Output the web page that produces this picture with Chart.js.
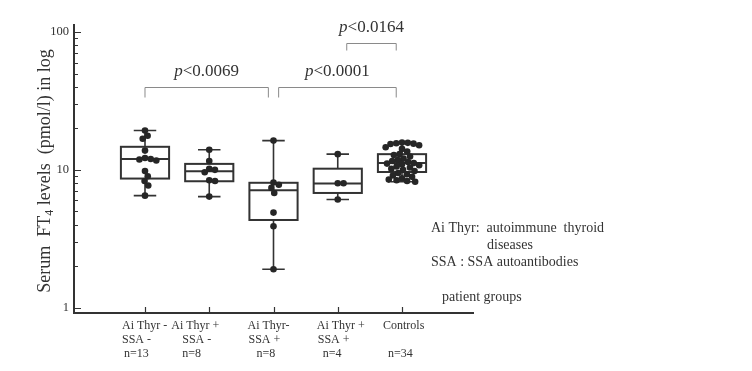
<!DOCTYPE html>
<html>
<head>
<meta charset="utf-8">
<script src="https://cdn.jsdelivr.net/npm/chart.js@4/dist/chart.umd.min.js"></script>
<style>
  html, body { margin: 0; padding: 0; background: #fff; }
  #wrap { width: 752px; height: 371px; }
</style>
</head>
<body>
<div id="wrap"><canvas id="chart"></canvas></div>
<script>
// ─── data ─────────────────────────────────────────────
const groupLine1 = ['Ai Thyr -', 'Ai Thyr +', 'Ai Thyr-', 'Ai Thyr +', 'Controls'];
const groupLine2 = ['SSA -', 'SSA -', 'SSA +', 'SSA +', ''];
const groupN     = ['n=13', 'n=8', 'n=8', 'n=4', 'n=34'];

const valsAi0Ssa0 = [19.3, 17.7, 16.8, 13.8, 12.2, 12.0, 11.9, 11.7, 9.8, 9.0, 8.3, 7.7, 6.5];
const valsAi1Ssa0 = [14.0, 11.6, 10.2, 10.0, 9.6, 8.4, 8.3, 6.4];
const valsAi0Ssa1 = [16.3, 8.1, 7.8, 7.4, 6.8, 4.9, 3.9, 1.9];
const valsAi1Ssa1 = [13.0, 8.0, 8.0, 6.1];
const valsControls = [15.8, 15.7, 15.6, 15.5, 15.4, 15.1, 14.6, 14.2, 13.6, 13.0, 12.8, 12.5,
                      12.1, 11.8, 11.6, 11.4, 11.2, 11.1, 11.0, 10.8, 10.6, 10.4, 10.2, 10.0,
                      9.8, 9.5, 9.3, 9.1, 8.9, 8.7, 8.5, 8.4, 8.3, 8.2];
const groupValues = [valsAi0Ssa0, valsAi1Ssa0, valsAi0Ssa1, valsAi1Ssa1, valsControls];

const boxLow    = [6.5, 6.4, 1.9, 6.1, 8.2];
const boxQ1     = [8.65, 8.27, 4.33, 6.8, 9.65];
const boxMedian = [12.0, 9.77, 7.13, 7.97, 11.2];
const boxQ3     = [14.7, 11.05, 8.06, 10.2, 13.0];
const boxHigh   = [19.3, 14.0, 16.3, 13.0, 15.7];

const yTickValues = [1, 2, 3, 4, 5, 6, 7, 8, 9, 10, 20, 30, 40, 50, 60, 70, 80, 90, 100];
const yTickLabels = [1, 10, 100];

const compFrom = [1, 3, 4];
const compTo   = [3, 5, 5];
const compP    = ['<0.0069', '<0.0001', '<0.0164'];

// ─── layout / style ────────────────────────────
const INK = '#333';
const SERIF = '"Liberation Serif", "DejaVu Serif", serif';
const BOX_HALF = 0.375;     // category units
const CAP_HALF = 0.175;
const SWARM_GAP = 5.8;      // px between point centres
// x offsets (px) of the three label lines relative to each tick
const labelDx = [[-23, -23, -21], [-38, -27, -27], [-26, -25, -17], [-21, -20, -15], [-19, 0, -14]];
// bracket layout: y value of the bar, leg length px, inset of ends in category units
const bracketLevel = [39.7, 39.7, 82.9];
const bracketLeg   = [10, 10, 7];
const bracketInset = [[0, 0.08], [0.08, 0.09], [0.14, 0.09]];

function swarm(py, gap) {
  const placed = [];
  return py.map(y => {
    const cands = [0];
    placed.forEach(p => {
      const dy = y - p.y;
      if (Math.abs(dy) < gap) {
        const dx = Math.sqrt(gap * gap - dy * dy);
        cands.push(p.x + dx, p.x - dx);
      }
    });
    cands.sort((a, b) => Math.abs(a) - Math.abs(b) || b - a);
    const x = cands.find(c => placed.every(p => Math.hypot(c - p.x, y - p.y) >= gap - 1e-6));
    placed.push({ x, y });
    return x;
  });
}

const boxPlugin = {
  id: 'boxes',
  beforeDatasetsDraw(chart) {
    const { ctx, scales: { x, y } } = chart;
    ctx.save();
    ctx.strokeStyle = INK;
    groupValues.forEach((_, i) => {
      const c = i + 1;
      const xl = x.getPixelForValue(c - BOX_HALF), xr = x.getPixelForValue(c + BOX_HALF);
      const xc = x.getPixelForValue(c);
      const cl = x.getPixelForValue(c - CAP_HALF), cr = x.getPixelForValue(c + CAP_HALF);
      const yq1 = y.getPixelForValue(boxQ1[i]), yq3 = y.getPixelForValue(boxQ3[i]);
      const ylo = y.getPixelForValue(boxLow[i]), yhi = y.getPixelForValue(boxHigh[i]);
      const ymd = y.getPixelForValue(boxMedian[i]);
      ctx.lineWidth = 1.6;
      ctx.beginPath();
      ctx.moveTo(xc, yq3); ctx.lineTo(xc, yhi);
      ctx.moveTo(xc, yq1); ctx.lineTo(xc, ylo);
      ctx.moveTo(cl, yhi); ctx.lineTo(cr, yhi);
      ctx.moveTo(cl, ylo); ctx.lineTo(cr, ylo);
      ctx.stroke();
      ctx.lineWidth = 2;
      ctx.strokeRect(xl, yq3, xr - xl, yq1 - yq3);
      ctx.beginPath();
      ctx.moveTo(xl, ymd); ctx.lineTo(xr, ymd);
      ctx.stroke();
    });
    ctx.restore();
  },
  afterDraw(chart) {
    const { ctx, chartArea: a, scales: { x, y } } = chart;
    ctx.save();
    ctx.strokeStyle = INK;
    ctx.fillStyle = INK;
    ctx.lineWidth = 1.2;
    // inward tick marks
    ctx.beginPath();
    yTickValues.forEach(v => {
      const py = Math.round(y.getPixelForValue(v)) + 0.5;
      const len = yTickLabels.includes(v) ? 7 : 4;
      ctx.moveTo(a.left, py); ctx.lineTo(a.left + len, py);
    });
    groupValues.forEach((_, i) => {
      const px = Math.round(x.getPixelForValue(i + 1)) + 0.5;
      ctx.moveTo(px, a.bottom); ctx.lineTo(px, a.bottom - 6);
    });
    ctx.stroke();

    // category labels
    ctx.font = '12px ' + SERIF;
    ctx.textAlign = 'left';
    ctx.textBaseline = 'middle';
    groupLine1.forEach((t, i) => {
      const px = x.getPixelForValue(i + 1);
      const d = labelDx[i];
      ctx.fillText(t, px + d[0], a.bottom + 13);
      if (groupLine2[i]) ctx.fillText(groupLine2[i], px + d[1], a.bottom + 27);
      ctx.fillText(groupN[i], px + d[2], a.bottom + 41);
    });

    // y title with subscript
    ctx.save();
    ctx.translate(45, 171);
    ctx.rotate(-Math.PI / 2);
    const partA = 'Serum  FT', sub = '4', partB = ' levels  (pmol/l) in log';
    ctx.font = '18px ' + SERIF;
    const wa = ctx.measureText(partA).width, wb = ctx.measureText(partB).width;
    ctx.font = '12px ' + SERIF;
    const ws = ctx.measureText(sub).width;
    let sx = -(wa + ws + wb) / 2;
    ctx.font = '18px ' + SERIF;
    ctx.fillText(partA, sx, 0); sx += wa;
    ctx.font = '12px ' + SERIF;
    ctx.fillText(sub, sx, 5); sx += ws;
    ctx.font = '18px ' + SERIF;
    ctx.fillText(partB, sx, 0);
    ctx.restore();

    // significance brackets
    compFrom.forEach((f, i) => {
      const x1 = x.getPixelForValue(f + bracketInset[i][0]);
      const x2 = x.getPixelForValue(compTo[i] - bracketInset[i][1]);
      const by = Math.round(y.getPixelForValue(bracketLevel[i])) + 0.5;
      ctx.strokeStyle = '#8a8a8a';
      ctx.lineWidth = 1;
      ctx.beginPath();
      ctx.moveTo(x1, by + bracketLeg[i]); ctx.lineTo(x1, by);
      ctx.lineTo(x2, by); ctx.lineTo(x2, by + bracketLeg[i]);
      ctx.stroke();
      ctx.font = 'italic 17px ' + SERIF;
      const wp = ctx.measureText('p').width;
      ctx.font = '17px ' + SERIF;
      const wr = ctx.measureText(compP[i]).width;
      let tx = (x1 + x2) / 2 - (wp + wr) / 2;
      ctx.fillStyle = INK;
      ctx.font = 'italic 17px ' + SERIF;
      ctx.fillText('p', tx, by - 16);
      ctx.font = '17px ' + SERIF;
      ctx.fillText(compP[i], tx + wp, by - 16);
    });

    // notes on the right
    ctx.font = '14px ' + SERIF;
    ctx.fillText('Ai Thyr:  autoimmune  thyroid', 431, 228);
    ctx.fillText('diseases', 487, 245);
    ctx.fillText('SSA : SSA autoantibodies', 431, 262);
    ctx.fillText('patient groups', 442, 297);
    ctx.restore();
  }
};

const chart = new Chart(document.getElementById('chart'), {
  type: 'scatter',
  data: {
    datasets: [{
      data: groupValues.flatMap((vals, g) => vals.map(v => ({ x: g + 1, y: v }))),
      backgroundColor: '#262626',
      borderWidth: 0,
      pointRadius: 3.3,
      pointHoverRadius: 3.3,
    }]
  },
  options: {
    responsive: true,
    maintainAspectRatio: false,
    animation: false,
    layout: { padding: { left: 0, top: 25, right: 279, bottom: 0 } },
    plugins: { legend: { display: false }, tooltip: { enabled: false } },
    scales: {
      x: {
        type: 'linear',
        min: -0.105,
        max: 6.105,
        grid: { display: false, drawTicks: false },
        border: { display: true, color: INK, width: 2 },
        ticks: { display: false },
        afterFit: s => { s.height = 58; },
      },
      y: {
        type: 'logarithmic',
        min: 0.916,
        max: 112.4,
        grid: { display: false, drawTicks: false },
        border: { display: true, color: INK, width: 2 },
        afterBuildTicks: s => { s.ticks = yTickValues.map(v => ({ value: v })); },
        afterFit: s => { s.width = 74; },
        ticks: {
          autoSkip: false,
          padding: 5,
          color: INK,
          font: { family: SERIF, size: 12.5 },
          callback: v => yTickLabels.includes(v) ? String(v) : '',
        },
      }
    }
  },
  plugins: [boxPlugin]
});

// spread overlapping points sideways (beeswarm) once scales are known
(function applySwarm() {
  const xs = chart.scales.x, ys = chart.scales.y;
  const unit = xs.getPixelForValue(2) - xs.getPixelForValue(1);
  const pts = [];
  groupValues.forEach((vals, g) => {
    const off = swarm(vals.map(v => ys.getPixelForValue(v)), SWARM_GAP);
    vals.forEach((v, i) => pts.push({ x: g + 1 + off[i] / unit, y: v }));
  });
  chart.data.datasets[0].data = pts;
  chart.update('none');
})();
</script>
</body>
</html>
